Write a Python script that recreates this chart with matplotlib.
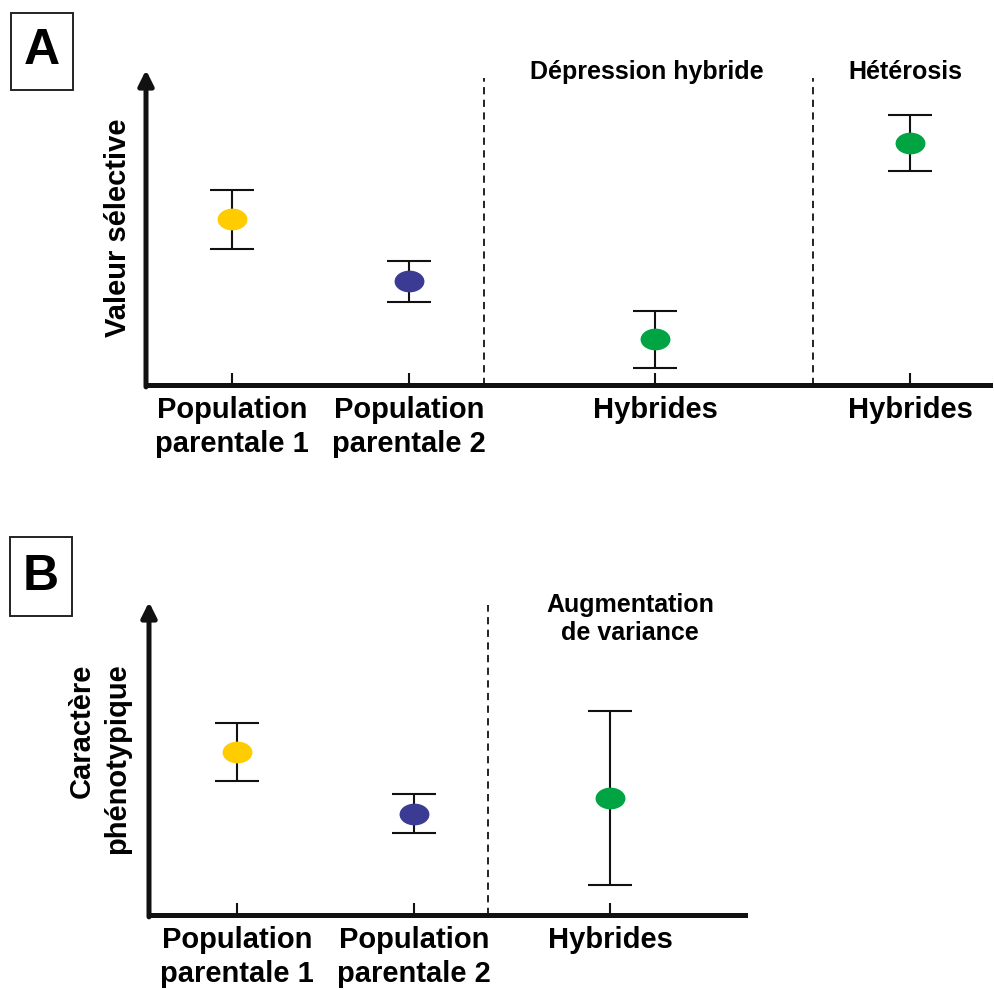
import matplotlib
matplotlib.use("Agg")
import matplotlib.pyplot as plt
from matplotlib.path import Path
from matplotlib.transforms import Affine2D

plt.rcParams['font.family'] = ['Liberation Sans', 'DejaVu Sans']
plt.rcParams['font.weight'] = 'bold'

# panel A data
a_labels = ['Population\nparentale 1', 'Population\nparentale 2', 'Hybrides', 'Hybrides']
a_pos = [1, 2, 3.39, 4.83]
a_vals = [5.26, 3.29, 1.45, 7.68]
a_err = [0.93, 0.66, 0.90, 0.89]
a_colors = ['#FFCC00', '#3B3B94', '#00A443', '#00A443']
a_dash = [2.42, 4.28]
a_heads = ['Dépression hybride', 'Hétérosis']

# panel B data
b_labels = ['Population\nparentale 1', 'Population\nparentale 2', 'Hybrides']
b_pos = [1, 2, 3.11]
b_vals = [5.21, 3.24, 3.75]
b_err = [0.92, 0.63, 2.78]
b_colors = ['#FFCC00', '#3B3B94', '#00A443']
b_dash = [2.42]
b_heads = ['Augmentation\nde variance']

W, H = 994, 990
ell = Path.unit_circle().transformed(Affine2D().scale(1.4, 1.0))


def px_axes(fig, left, top, right, bottom):
    return fig.add_axes([left / W, 1 - bottom / H, (right - left) / W, (bottom - top) / H])


def draw_panel(ax, pos, vals, err, colors, labels, dash, heads, head_xy, dash_top,
               ylabel, xlim, ylabel_x):
    ax.set_xlim(*xlim)
    ax.set_ylim(0, 10)
    for x, v, e, c in zip(pos, vals, err, colors):
        ax.errorbar(x, v, yerr=e, fmt='none', ecolor='#111111', elinewidth=1.5,
                    capsize=16, capthick=1.5, zorder=2)
        ax.plot(x, v, marker=ell, markersize=20.5, color=c, markeredgecolor=c, zorder=3)
    for d in dash:
        ax.axvline(d, ymax=dash_top, color='#111111', lw=1.3, ls=(0, (4, 3)), zorder=1)
    for (hx, hy), h in zip(head_xy, heads):
        ax.text(hx, hy, h, ha='center', va='center', fontsize=18, fontweight='bold',
                linespacing=1.25, clip_on=False)
    for s in ['top', 'right', 'left']:
        ax.spines[s].set_visible(False)
    ax.spines['bottom'].set_linewidth(3.6)
    ax.spines['bottom'].set_color('#111111')
    ax.annotate('', xy=(0, 1.0), xytext=(0, -0.006), xycoords='axes fraction',
                arrowprops=dict(arrowstyle='-|>,head_length=0.9,head_width=0.45',
                                lw=3.6, color='#111111', shrinkA=0, shrinkB=0))
    ax.set_yticks([])
    ax.set_xticks(pos, labels)
    ax.tick_params(axis='x', direction='in', length=9, width=1.5, color='#111111',
                   pad=8, labelsize=21)
    for t in ax.get_xticklabels():
        t.set_fontweight('bold')
        t.set_linespacing(1.28)
    ax.text(ylabel_x, 0.5, ylabel, transform=ax.transAxes, rotation=90, ha='center',
            va='center', fontsize=21, fontweight='bold', linespacing=1.35,
            multialignment='right')


fig = plt.figure(figsize=(W / 100, H / 100), dpi=100)

axA = px_axes(fig, 146, 70, 990, 385)
draw_panel(axA, a_pos, a_vals, a_err, a_colors, a_labels, a_dash, a_heads,
           [(3.34, 9.93), (4.80, 9.93)], 0.975, 'Valeur sélective', (0.514, 5.28), -0.033)

axB = px_axes(fig, 149, 602, 745, 915)
draw_panel(axB, b_pos, b_vals, b_err, b_colors, b_labels, b_dash, b_heads,
           [(3.22, 9.46)], 0.99, 'Caractère\nphénotypique', (0.503, 3.87), -0.083)

for lab, (l, t, r, b) in zip(['A', 'B'], [(11, 13, 73, 90), (10, 537, 72, 616)]):
    fig.text((l + r) / 2 / W, 1 - (t + b) / 2 / H, lab, ha='center', va='center',
             fontsize=36, fontweight='bold')
    fig.patches.append(plt.Rectangle((l / W, 1 - b / H), (r - l) / W, (b - t) / H,
                                     transform=fig.transFigure, fill=False,
                                     lw=1.4, ec='#222222'))

fig.savefig('out.png', dpi=100)
